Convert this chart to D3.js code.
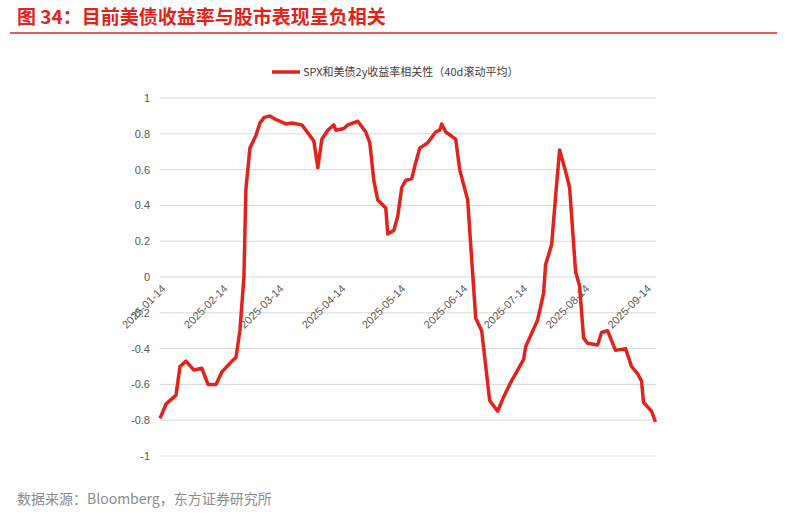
<!DOCTYPE html><html><head><meta charset="utf-8"><script src="https://cdn.jsdelivr.net/npm/d3@7"></script>
<style>body{margin:0;background:#fff;font-family:"Noto Sans CJK SC","Noto Sans",sans-serif}</style></head><body><svg id="c" width="787" height="514"></svg><script>
const dates=["2025-01-14","2025-01-17","2025-01-22","2025-01-24","2025-01-27","2025-01-31","2025-02-04","2025-02-07","2025-02-11","2025-02-14","2025-02-19","2025-02-21","2025-02-23","2025-02-25","2025-02-26","2025-02-28","2025-03-03","2025-03-05","2025-03-07","2025-03-10","2025-03-13","2025-03-18","2025-03-21","2025-03-26","2025-04-01","2025-04-03","2025-04-05","2025-04-08","2025-04-11","2025-04-12","2025-04-16","2025-04-18","2025-04-23","2025-04-27","2025-04-29","2025-05-01","2025-05-03","2025-05-07","2025-05-08","2025-05-11","2025-05-13","2025-05-15","2025-05-17","2025-05-20","2025-05-22","2025-05-24","2025-05-28","2025-06-01","2025-06-03","2025-06-04","2025-06-06","2025-06-11","2025-06-13","2025-06-17","2025-06-21","2025-06-24","2025-06-28","2025-07-02","2025-07-05","2025-07-08","2025-07-11","2025-07-15","2025-07-16","2025-07-20","2025-07-22","2025-07-25","2025-07-26","2025-07-29","2025-07-31","2025-08-02","2025-08-05","2025-08-07","2025-08-10","2025-08-12","2025-08-14","2025-08-16","2025-08-21","2025-08-23","2025-08-26","2025-08-30","2025-09-04","2025-09-07","2025-09-10","2025-09-12","2025-09-13","2025-09-17","2025-09-19"];
const values=[-0.79,-0.71,-0.66,-0.50,-0.47,-0.52,-0.51,-0.60,-0.60,-0.53,-0.47,-0.45,-0.30,0.0,0.49,0.72,0.79,0.86,0.89,0.90,0.88,0.855,0.86,0.85,0.76,0.61,0.77,0.82,0.85,0.82,0.83,0.85,0.87,0.81,0.75,0.54,0.43,0.385,0.24,0.26,0.34,0.50,0.54,0.55,0.64,0.72,0.75,0.81,0.82,0.855,0.81,0.77,0.60,0.43,-0.23,-0.30,-0.69,-0.75,-0.67,-0.60,-0.54,-0.46,-0.39,-0.29,-0.24,-0.09,0.07,0.18,0.45,0.71,0.59,0.50,0.03,-0.05,-0.34,-0.37,-0.38,-0.31,-0.30,-0.41,-0.40,-0.50,-0.54,-0.58,-0.70,-0.75,-0.81];
const xTicks=["2025-01-14","2025-02-14","2025-03-14","2025-04-14","2025-05-14","2025-06-14","2025-07-14","2025-08-14","2025-09-14"];
const yTicks=[1,0.8,0.6,0.4,0.2,0,-0.2,-0.4,-0.6,-0.8,-1];
const title="图 34：目前美债收益率与股市表现呈负相关";
const legendLabel="SPX和美债2y收益率相关性（40d滚动平均）";
const source="数据来源：Bloomberg，东方证券研究所";
const p=d3.timeParse("%Y-%m-%d");
const svg=d3.select("#c");
const x=d3.scaleTime().domain([p("2025-01-14"),p("2025-09-19")]).range([160,655.5]);
const y=d3.scaleLinear().domain([-1,1]).range([456,98]);
const red="#e3231b";
svg.append("text").attr("x",17).attr("y",24).attr("fill",red).attr("font-size",19).attr("font-weight","bold").text(title);
svg.append("line").attr("x1",10).attr("x2",777).attr("y1",33).attr("y2",33).attr("stroke",red).attr("stroke-width",1.5);
svg.append("g").selectAll("line").data(yTicks).join("line").attr("x1",160).attr("x2",656).attr("y1",d=>y(d)).attr("y2",d=>y(d)).attr("stroke","#d9d9d9");
svg.append("g").selectAll("text").data(yTicks).join("text").attr("x",150).attr("y",d=>y(d)+4).attr("text-anchor","end").attr("font-size",11).attr("fill","#595959").attr("font-family","Liberation Sans,Arial").text(d=>d);
svg.append("g").selectAll("text").data(xTicks).join("text").attr("transform",d=>`translate(${x(p(d))+1},${y(0)+7}) rotate(-45)`).attr("text-anchor","end").attr("dy","0.7em").attr("font-size",11).attr("fill","#595959").attr("font-family","Liberation Sans,Arial").text(d=>d);
const line=d3.line().x((d,i)=>x(p(dates[i]))).y(d=>y(d));
svg.append("path").datum(values).attr("d",line).attr("fill","none").attr("stroke",red).attr("stroke-width",3.5).attr("stroke-linejoin","round");
svg.append("line").attr("x1",272).attr("x2",300).attr("y1",72).attr("y2",72).attr("stroke",red).attr("stroke-width",3.5);
svg.append("text").attr("x",303).attr("y",76).attr("font-size",11).attr("fill","#404040").text(legendLabel);
svg.append("text").attr("x",17).attr("y",504).attr("font-size",14).attr("fill","#8c8c8c").text(source);
</script></body></html>
